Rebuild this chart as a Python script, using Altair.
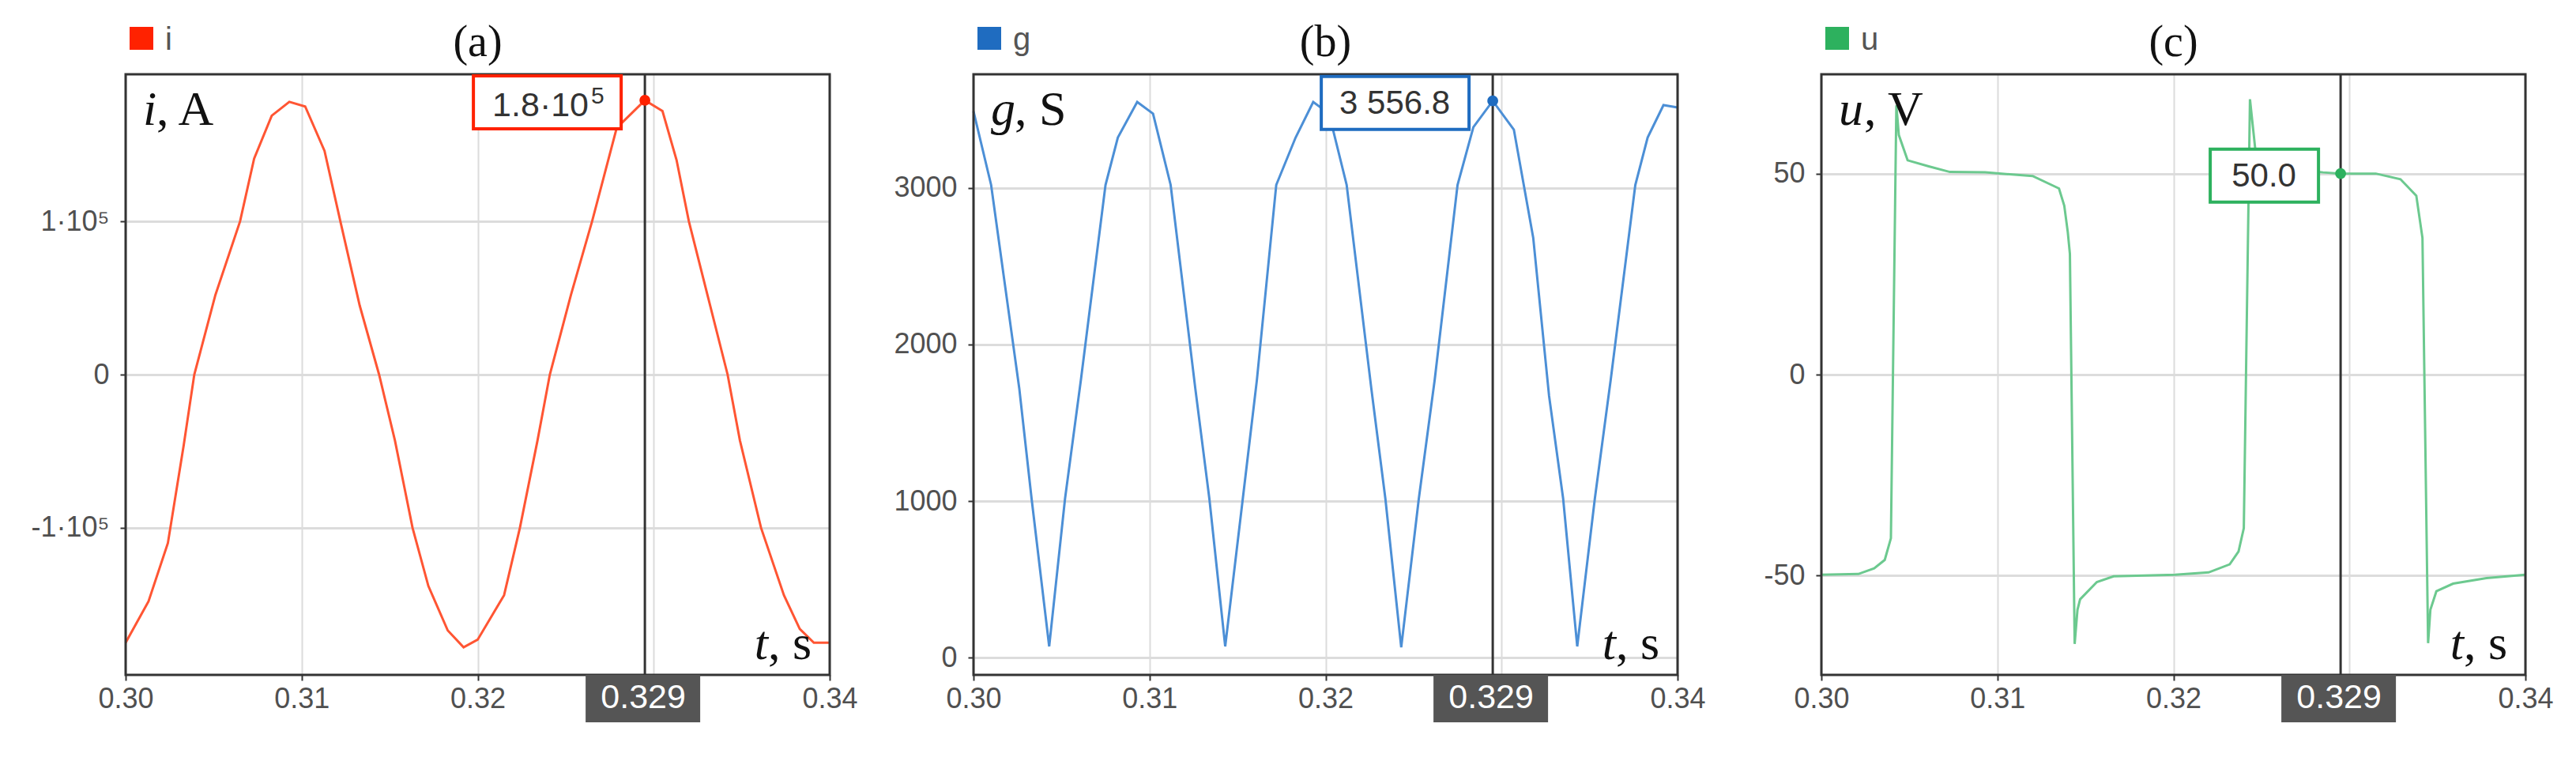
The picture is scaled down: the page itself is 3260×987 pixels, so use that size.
import altair as alt
import pandas as pd

# ---------------- data ----------------
t_i = [0.3000, 0.3013, 0.3024, 0.3033, 0.3039, 0.3051, 0.3065, 0.3073, 0.3083, 0.3093,
       0.3102, 0.3113, 0.3122, 0.3133, 0.3144, 0.3153, 0.3163, 0.3172, 0.3183, 0.3192,
       0.3200, 0.3215, 0.3224, 0.3234, 0.3241, 0.3253, 0.3265, 0.3279, 0.3295, 0.3305,
       0.3313, 0.3320, 0.3331, 0.3342, 0.3349, 0.3361, 0.3374, 0.3383, 0.3391, 0.3400]
i_vals = [-175000, -148000, -110000, -46000, 0, 52000, 100000, 141000, 169000, 178000,
          175000, 146000, 100000, 45000, 0, -43000, -100000, -138000, -167000, -178000,
          -173000, -144000, -100000, -43000, 0, 52000, 100000, 161000, 179000, 172000,
          140000, 100000, 50000, 0, -43000, -100000, -144000, -166000, -175000, -175000]

t_g = [0.3000, 0.3010, 0.3026, 0.3033, 0.3043, 0.3052, 0.3061, 0.3075, 0.3082, 0.3093,
       0.3102, 0.3112, 0.3126, 0.3134, 0.3143, 0.3153, 0.3161, 0.3172, 0.3183, 0.3193,
       0.3202, 0.3212, 0.3226, 0.3234, 0.3243, 0.3253, 0.3262, 0.3275, 0.3284, 0.3295,
       0.3307, 0.3318, 0.3327, 0.3335, 0.3343, 0.3353, 0.3362, 0.3376, 0.3383, 0.3392,
       0.3400]
g_vals = [3490, 3020, 1720, 1015, 71, 1015, 1773, 3020, 3323, 3550,
          3475, 3020, 1720, 1015, 71, 1015, 1773, 3020, 3323, 3550,
          3475, 3020, 1720, 1015, 65, 1015, 1773, 3020, 3389, 3557,
          3373, 2682, 1672, 1015, 71, 1015, 1773, 3020, 3323, 3530,
          3515]

t_u = [0.3000, 0.3021, 0.3030, 0.3036, 0.30395, 0.30426, 0.3044, 0.3049, 0.3061, 0.3073,
       0.3093, 0.3120, 0.3135, 0.3138, 0.3140, 0.31412, 0.31439, 0.31455, 0.3147, 0.31565,
       0.3166, 0.3201, 0.3220, 0.3232, 0.3237, 0.3240, 0.32435, 0.32466, 0.3255, 0.3270,
       0.3285, 0.3295, 0.3315, 0.3329, 0.3338, 0.33415, 0.33447, 0.3346, 0.33494, 0.33589,
       0.33779, 0.3400]
u_vals = [-49.8, -49.6, -48.2, -46.1, -40.7, 67.0, 59.6, 53.3, 51.8, 50.4,
          50.3, 49.4, 46.3, 42.0, 35.4, 30.0, -67.0, -58.5, -55.9, -51.6,
          -50.2, -49.8, -49.2, -47.2, -44.0, -38.2, 68.5, 55.7, 52.5, 51.0,
          50.3, 50.0, 50.0, 48.6, 44.5, 34.0, -66.8, -58.5, -53.9, -52.0,
          -50.6, -49.8]

cursor_t = 0.3295
cursor_label = "0.329"
cursor_vals = [179000, 3556.8, 50.0]

x_ticks = [0.30, 0.31, 0.32, 0.33, 0.34]
i_ticks = [-100000, 0, 100000]
g_ticks = [0, 1000, 2000, 3000]
u_ticks = [-50, 0, 50]

# ---------------- style ----------------
W, H = 891, 760
SERIF = "Liberation Serif"
SANS = "Liberation Sans"
LABEL_GRAY = "#505050"
BORDER = "#333333"
PLAIN_INT = "datum.value < 0 ? '-' + abs(datum.value) : '' + datum.value"

xscale = alt.Scale(domain=[0.30, 0.34], nice=False, zero=False)
xaxis = alt.Axis(values=x_ticks, format=".2f",
                 labelExpr="abs(datum.value-0.33)<1e-6 ? '' : datum.label",
                 grid=True, gridColor="#dcdcdc", gridWidth=2, domain=False,
                 ticks=True, tickColor=BORDER, tickSize=7, tickWidth=2,
                 labelFont=SANS, labelFontSize=36, labelColor=LABEL_GRAY,
                 labelPadding=6, labelFlush=False, title=None)


def yaxis(vals, expr):
    return alt.Axis(values=vals, labelExpr=expr, grid=True, gridColor="#dcdcdc",
                    gridWidth=3, domain=False, ticks=True, tickColor=BORDER,
                    tickSize=7, tickWidth=2, labelFont=SANS, labelFontSize=36,
                    labelColor=LABEL_GRAY, labelPadding=14, title=None)


def panel(t, v, col_line, col_dark, leg, title, lab_it, lab_rest, rest_dx,
          ydomain, yticks, yexpr, cur_v, tips, box, spacer=False):
    base = pd.DataFrame({"t": t, "v": v})
    cur = pd.DataFrame({"t": [cursor_t], "v": [cur_v], "lab": [cursor_label]})
    X = alt.X("t:Q", scale=xscale, axis=xaxis)
    Y = alt.Y("v:Q", scale=alt.Scale(domain=ydomain, nice=False, zero=False),
              axis=yaxis(yticks, yexpr))

    layers = []
    layers.append(alt.Chart(base).mark_line(color=col_line, strokeWidth=3).encode(x=X, y=Y))
    layers.append(alt.Chart(cur).mark_rect(fillOpacity=0, stroke=BORDER, strokeWidth=3).encode(
        x=alt.value(0), x2=alt.value(W), y=alt.value(0), y2=alt.value(H)))
    layers.append(alt.Chart(cur).mark_rule(color=BORDER, strokeWidth=3).encode(x=X))
    layers.append(alt.Chart(cur).mark_circle(size=190, color=col_dark, opacity=1).encode(x=X, y=Y))
    layers.append(alt.Chart(cur).mark_rect(fill="white", stroke=col_dark, strokeWidth=4,
                                           xOffset=box[0], x2Offset=box[1],
                                           yOffset=-31, y2Offset=36).encode(
        x=X, x2=alt.X2("t"), y=Y, y2=alt.Y2("v")))
    for (txt, dx, dy, size, align) in tips:
        layers.append(alt.Chart(cur).mark_text(text=txt, dx=dx, dy=dy, font=SANS, fontSize=size,
                                               color="#333333", align=align,
                                               baseline="alphabetic").encode(x=X, y=Y))
    # crosshair label under the axis
    layers.append(alt.Chart(cur).mark_rect(fill="#555555", xOffset=-75, x2Offset=70).encode(
        x=X, x2=alt.X2("t"), y=alt.value(H), y2=alt.value(H + 60)))
    layers.append(alt.Chart(cur).mark_text(font=SANS, fontSize=43, color="white", align="center",
                                           baseline="alphabetic", dx=-2).encode(
        x=X, y=alt.value(H + 42), text="lab:N"))
    # y label (top-left inside)
    layers.append(alt.Chart(cur).mark_text(text=lab_it, font=SERIF, fontStyle="italic", fontSize=62,
                                           color="#111111", align="left", baseline="alphabetic").encode(
        x=alt.value(22), y=alt.value(64)))
    layers.append(alt.Chart(cur).mark_text(text=lab_rest, font=SERIF, fontSize=62,
                                           color="#111111", align="left", baseline="alphabetic").encode(
        x=alt.value(22 + rest_dx), y=alt.value(64)))
    # x label (bottom-right inside)
    layers.append(alt.Chart(cur).mark_text(text="t", font=SERIF, fontStyle="italic", fontSize=62,
                                           color="#111111", align="right", baseline="alphabetic").encode(
        x=alt.value(W - 78), y=alt.value(H - 20)))
    layers.append(alt.Chart(cur).mark_text(text=", s", font=SERIF, fontSize=62,
                                           color="#111111", align="left", baseline="alphabetic").encode(
        x=alt.value(W - 78), y=alt.value(H - 20)))
    # legend
    layers.append(alt.Chart(cur).mark_rect(color=col_dark).encode(
        x=alt.value(5), x2=alt.value(35), y=alt.value(-60), y2=alt.value(-31)))
    layers.append(alt.Chart(cur).mark_text(text=leg, font=SANS, fontSize=40, color="#555555",
                                           align="left", baseline="alphabetic").encode(
        x=alt.value(50), y=alt.value(-31)))
    # panel title
    layers.append(alt.Chart(cur).mark_text(text=title, font=SERIF, fontSize=56, color="#111111",
                                           align="center", baseline="alphabetic").encode(
        x=alt.value(W / 2), y=alt.value(-23)))
    if spacer:
        layers.append(alt.Chart(cur).mark_rect(color="white").encode(
            x=alt.value(-145), x2=alt.value(-143), y=alt.value(-80), y2=alt.value(-78)))
    return alt.layer(*layers).properties(width=W, height=H)


pa = panel(t_i, i_vals, "#FF5533", "#FF2200", "i", "(a)", "i", ", A", 17,
           [-196000, 196000], i_ticks,
           "datum.value == 0 ? '0' : (datum.value > 0 ? '1·10⁵' : '-1·10⁵')",
           cursor_vals[0],
           [("1.8·10", -193, 20, 43, "left"), ("5", -68, 4, 30, "left")],
           (-217, -30), spacer=True)

pb = panel(t_g, g_vals, "#4C8FD6", "#1F6CC0", "g", "(b)", "g", ", S", 30,
           [-111, 3727], g_ticks, PLAIN_INT, cursor_vals[1],
           [("3 556.8", -124, 16, 42, "center")],
           (-217, -30))

pc = panel(t_u, u_vals, "#6CC98F", "#2DB15E", "u", "(c)", "u", ", V", 32,
           [-74.7, 74.7], u_ticks, PLAIN_INT, cursor_vals[2],
           [("50.0", -97, 16, 42, "center")],
           (-165, -28))

chart = alt.hconcat(pa, pb, pc, spacing=182, bounds="flush").configure_view(
    stroke="transparent", strokeWidth=0).configure(background="white")

chart.save("out.html", embed_options={"renderer": "svg", "actions": False})
